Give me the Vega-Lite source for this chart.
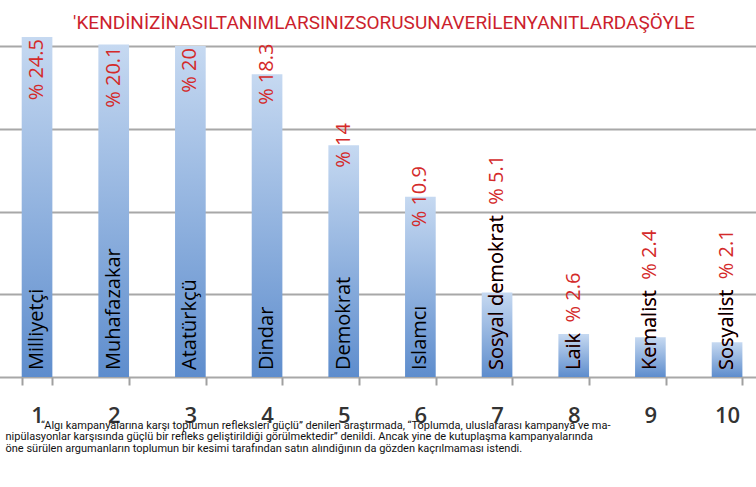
{
  "$schema": "https://vega.github.io/schema/vega-lite/v6.json",
  "description": "Kendinizi nasıl tanımlarsınız sorusuna verilen yanıtlar",
  "width": 734,
  "height": 340,
  "autosize": {"type": "none"},
  "padding": {"left": 22, "top": 37, "right": 0, "bottom": 110},
  "background": "white",
  "title": {
    "text": "'KENDİNİZİNASILTANIMLARSINIZSORUSUNAVERİLENYANITLARDAŞÖYLE",
    "font": "Roboto",
    "fontSize": 19,
    "fontWeight": "normal",
    "color": "#cc1f2d",
    "anchor": "middle",
    "baseline": "alphabetic",
    "dx": -5,
    "offset": -11
  },
  "data": {
    "values": [
      {"n": "1", "category": "Milliyetçi", "value": 24.5},
      {"n": "2", "category": "Muhafazakar", "value": 20.1},
      {"n": "3", "category": "Atatürkçü", "value": 20},
      {"n": "4", "category": "Dindar", "value": 18.3},
      {"n": "5", "category": "Demokrat", "value": 14},
      {"n": "6", "category": "Islamcı", "value": 10.9},
      {"n": "7", "category": "Sosyal demokrat", "value": 5.1},
      {"n": "8", "category": "Laik", "value": 2.6},
      {"n": "9", "category": "Kemalist", "value": 2.4},
      {"n": "10", "category": "Sosyalist", "value": 2.1}
    ]
  },
  "transform": [
    {"calculate": "'% ' + datum.value", "as": "label"},
    {"calculate": "datum.category + '\u00a0 ' + datum.label", "as": "lowlabel"}
  ],
  "encoding": {
    "x": {
      "field": "n",
      "type": "ordinal",
      "sort": null,
      "scale": {"range": [-23.3, 743.4], "paddingInner": 0.6, "paddingOuter": 0.3},
      "axis": {
        "labelAngle": 0,
        "labelFont": "Open Sans",
        "labelFontSize": 22,
        "labelFontWeight": 600,
        "labelColor": "#333333",
        "labelPadding": 20,
        "domain": false,
        "tickBand": "extent",
        "tickColor": "#a0a0a0",
        "tickWidth": 2,
        "tickSize": 8,
        "title": [
          "\u200b\u00a0\u00a0\u00a0\u00a0\u00a0\u00a0\u00a0\u00a0\u00a0\u00a0\u00a0\u00a0\u00a0“Algı kampanyalarına karşı toplumun refleksleri güçlü” denilen araştırmada, “Toplumda, uluslararası kampanya ve ma-",
          "nipülasyonlar karşısında güçlü bir refleks geliştirildiği görülmektedir” denildi. Ancak yine de kutuplaşma kampanyalarında",
          "öne sürülen argumanların toplumun bir kesimi tarafından satın alındiğının da gözden kaçrılmaması istendi."
        ],
        "titleFont": "Roboto",
        "titleFontSize": 11,
        "titleFontWeight": "normal",
        "titleColor": "#111111",
        "titleAlign": "left",
        "titleAnchor": "start",
        "titleBaseline": "top",
        "titleLineHeight": 11.8,
        "titleX": -17,
        "titleY": 42
      }
    }
  },
  "layer": [
    {
      "mark": {
        "type": "bar",
        "color": {
          "gradient": "linear",
          "x1": 0, "y1": 0, "x2": 0, "y2": 1,
          "stops": [
            {"offset": 0, "color": "#c6d9f1"},
            {"offset": 1, "color": "#5e8dcd"}
          ]
        }
      },
      "encoding": {
        "y": {
          "field": "value",
          "type": "quantitative",
          "scale": {"domain": [0, 20.55], "clamp": true, "nice": false},
          "axis": {
            "title": null,
            "labels": false,
            "ticks": false,
            "domain": false,
            "grid": true,
            "values": [0, 5, 10, 15, 20],
            "gridColor": "#a8a8a8",
            "gridWidth": 2
          }
        }
      }
    },
    {
      "transform": [{"filter": "datum.value < 10"}],
      "mark": {
        "type": "text",
        "angle": 270,
        "align": "left",
        "baseline": "middle",
        "dx": 7,
        "font": "Open Sans",
        "fontSize": 20,
        "color": "#d42a2a"
      },
      "encoding": {
        "y": {"datum": 0},
        "text": {"field": "lowlabel"}
      }
    },
    {
      "mark": {
        "type": "text",
        "angle": 270,
        "align": "left",
        "baseline": "middle",
        "dx": 7,
        "font": "Open Sans",
        "fontSize": 20,
        "color": "#000000"
      },
      "encoding": {
        "y": {"datum": 0},
        "text": {"field": "category"}
      }
    },
    {
      "transform": [{"filter": "datum.value >= 19"}],
      "mark": {
        "type": "text",
        "angle": 270,
        "align": "right",
        "baseline": "middle",
        "dx": -2,
        "font": "Open Sans",
        "fontSize": 20,
        "color": "#d42a2a"
      },
      "encoding": {
        "y": {"field": "value", "type": "quantitative"},
        "text": {"field": "label"}
      }
    },
    {
      "transform": [{"filter": "datum.value >= 10 && datum.value < 19"}],
      "mark": {
        "type": "text",
        "angle": 270,
        "align": "center",
        "baseline": "middle",
        "font": "Open Sans",
        "fontSize": 20,
        "color": "#d42a2a"
      },
      "encoding": {
        "y": {"field": "value", "type": "quantitative"},
        "text": {"field": "label"}
      }
    }
  ],
  "config": {
    "view": {"stroke": null}
  }
}
